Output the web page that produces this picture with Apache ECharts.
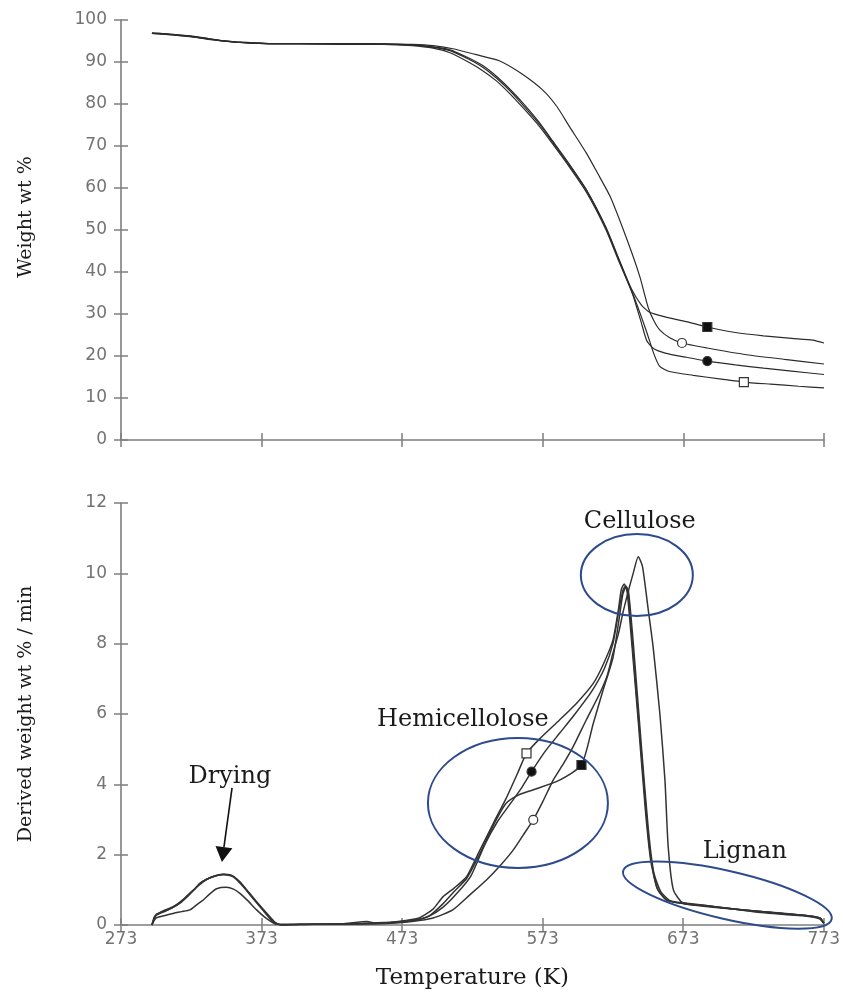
<!DOCTYPE html>
<html>
<head>
<meta charset="utf-8">
<script src="https://cdn.jsdelivr.net/npm/echarts@6/dist/echarts.min.js"></script>
<style>
  html, body { margin: 0; padding: 0; background: #ffffff; }
  #chart { width: 843px; height: 993px; }
</style>
</head>
<body>
<div id="chart"></div>
<script>
// ---- Thermogravimetric curves: weight (%) vs temperature (K), four samples ----
const tgaA = [[295,96.9],[305,96.7],[315,96.4],[325,96.1],[335,95.6],[345,95.1],[355,94.8],[365,94.6],[380,94.4],[400,94.4],[430,94.3],[460,94.3],[480,94.1],[495,93.6],[507,92.9],[520,91.0],[530,89.2],[540,86.6],[550,83.4],[560,79.8],[571,75.4],[580,71.2],[590,66.6],[604,59.6],[618,50.6],[627,43.2],[636,36.0],[643,32.2],[649,30.4],[660,29.3],[675,28.2],[690,26.9],[710,25.6],[730,24.8],[750,24.2],[765,23.8],[773,23.1]];
const tgaB = [[295,96.9],[305,96.7],[315,96.4],[325,96.0],[335,95.5],[345,95.1],[355,94.8],[365,94.6],[380,94.4],[400,94.4],[430,94.4],[460,94.3],[480,94.2],[495,93.9],[510,93.1],[525,91.8],[542,90.3],[558,87.2],[573,83.3],[583,79.4],[592,74.6],[604,68.3],[612,63.5],[621,57.9],[633,47.6],[642,38.9],[648,31.5],[652,28.4],[656,26.3],[663,24.4],[672,23.1],[690,21.9],[718,20.3],[745,19.2],[773,18.1]];
const tgaC = [[295,96.8],[305,96.6],[315,96.3],[325,96.0],[335,95.5],[345,95.0],[355,94.7],[365,94.5],[380,94.3],[400,94.3],[430,94.3],[460,94.2],[480,94.0],[495,93.5],[507,92.7],[520,90.7],[530,88.8],[540,86.2],[550,83.0],[560,79.3],[571,75.0],[580,70.9],[590,66.3],[604,59.5],[618,50.4],[627,43.0],[637,34.6],[643,28.0],[647,23.6],[652,21.7],[660,20.7],[675,19.7],[690,18.8],[710,17.9],[730,17.1],[750,16.4],[773,15.6]];
const tgaD = [[295,96.8],[305,96.6],[315,96.3],[325,95.9],[335,95.4],[345,95.0],[355,94.7],[365,94.5],[380,94.3],[400,94.3],[430,94.2],[460,94.2],[480,93.9],[495,93.3],[507,92.2],[520,90.0],[530,88.0],[540,85.5],[550,82.3],[560,78.7],[571,74.5],[580,70.5],[590,65.9],[604,59.0],[618,50.0],[627,42.6],[637,34.8],[647,25.6],[652,20.5],[656,17.6],[663,16.3],[680,15.4],[700,14.5],[716,13.8],[735,13.3],[755,12.8],[773,12.4]];

// ---- Derivative curves: weight loss rate (wt % / min) vs temperature (K) ----
const dtgA = [[295,0],[298,0.2],[305,0.28],[310,0.33],[316,0.38],[322,0.43],[327,0.58],[331.5,0.71],[336,0.88],[341,1.03],[348,1.07],[353,1.02],[357.6,0.9],[363,0.7],[369.5,0.43],[376,0.2],[383.7,0.02],[395,0.02],[420,0.03],[445,0.05],[465,0.08],[480,0.12],[492,0.25],[502,0.6],[510,0.95],[519,1.33],[528,2.0],[538,2.84],[547,3.46],[556,3.7],[566,3.84],[585,4.12],[600.6,4.55],[609,5.73],[616,6.68],[623,7.6],[627,8.6],[630,9.4],[632,9.6],[634,9.4],[637,7.9],[643,5.0],[649,2.2],[654,1.09],[661,0.71],[675,0.6],[700,0.48],[723,0.4],[745,0.32],[758,0.28],[770,0.2],[773,0.05]];
const dtgB = [[295,0],[298,0.28],[304,0.42],[310,0.52],[316,0.68],[320,0.82],[325,1.0],[329,1.18],[334,1.3],[339,1.38],[345,1.44],[352,1.4],[357,1.22],[362,1.0],[367,0.76],[372,0.52],[376,0.32],[381,0.1],[387,0],[410,0.02],[440,0.03],[465,0.05],[480,0.1],[495,0.2],[509,0.43],[521,0.85],[533,1.28],[543,1.7],[552,2.13],[559,2.55],[566.3,2.99],[573,3.5],[580.5,4.12],[588,4.6],[594.7,5.07],[604,5.83],[613.7,6.59],[619,7.1],[623,7.73],[627,8.3],[630,8.86],[634,9.5],[637.4,10.0],[641,10.47],[644,10.2],[648,9.0],[651.6,7.9],[656.4,6.0],[660,4.12],[662.3,2.23],[666,1.0],[673,0.62],[690,0.55],[710,0.45],[730,0.38],[750,0.31],[765,0.25],[771,0.18],[773,0.05]];
const dtgC = [[295,0],[298,0.3],[305,0.4],[312,0.55],[318,0.75],[324,0.98],[329,1.15],[334,1.3],[340,1.4],[346,1.43],[352,1.4],[357,1.25],[362,1.02],[367,0.78],[372,0.55],[377,0.32],[382,0.1],[387,0],[410,0.02],[440,0.03],[465,0.06],[480,0.12],[492,0.25],[502,0.5],[512,0.9],[522,1.4],[532,2.3],[541,2.95],[550,3.45],[558,3.9],[565.1,4.36],[575,4.95],[585,5.45],[596,6.0],[608,6.65],[617,7.3],[623,8.0],[627,8.9],[630,9.5],[632,9.65],[634,9.5],[637.5,8.0],[643,5.2],[648,2.8],[652,1.5],[657,0.95],[664,0.68],[676,0.6],[700,0.5],[723,0.4],[745,0.32],[760,0.27],[770,0.2],[773,0.05]];
const dtgD = [[295,0],[297,0.25],[302,0.35],[310,0.5],[315,0.62],[320,0.8],[325,1.0],[329,1.18],[334,1.3],[339,1.38],[346,1.44],[353,1.37],[358,1.2],[362,1.0],[367,0.75],[372,0.52],[377,0.3],[381,0.09],[387,0],[400,0.02],[430,0.03],[448,0.1],[455,0.05],[470,0.1],[485,0.2],[495,0.45],[502,0.8],[510,1.05],[519,1.38],[528,2.1],[538,2.9],[547,3.6],[555,4.3],[561.5,4.88],[571,5.3],[585,5.83],[597,6.3],[609,6.87],[616,7.4],[623,8.1],[627,9.0],[629,9.55],[631,9.7],[633,9.5],[636,8.2],[641,5.8],[646,3.3],[650,1.8],[655,1.0],[662,0.7],[676,0.62],[700,0.5],[723,0.38],[745,0.3],[758,0.26],[770,0.18],[773,0.05]];

// temperatures at which each sample's marker sits (A, B, C, D)
const tgaMarkerT = [690, 672, 690, 716];
const dtgMarkerT = [600.6, 566.3, 565.1, 561.5];

// axis ranges and ticks
const tempTicks = [273, 773, 100];
const weightTicks = [0, 100, 10];
const rateTicks = [0, 12, 2];

// marker look per sample: A filled square, B open circle, C filled circle, D open square
const markerLook = [
  { symbol: 'rect', fill: '#111111' },
  { symbol: 'circle', fill: '#ffffff' },
  { symbol: 'circle', fill: '#111111' },
  { symbol: 'rect', fill: '#ffffff' }
];

const GREY = '#7f7f7f';
const chart = echarts.init(document.getElementById('chart'), null, { renderer: 'canvas' });

function withMarker(points, markT, look) {
  return points.map(p => {
    if (p[0] === markT) {
      return {
        value: p,
        symbol: look.symbol,
        symbolSize: 9,
        itemStyle: { color: look.fill, borderColor: '#333333', borderWidth: 1.2 }
      };
    }
    return p;
  });
}

function lineSeries(points, markT, look, xi, yi, width, color) {
  return {
    type: 'line',
    xAxisIndex: xi,
    yAxisIndex: yi,
    data: withMarker(points, markT, look),
    symbol: 'none',
    showSymbol: true,
    smooth: 0.2,
    lineStyle: { color: color, width: width },
    itemStyle: { color: color },
    z: 3,
    silent: true
  };
}

function axisPair(kind, gridIndex, ticks, main) {
  const base = {
    type: 'value',
    gridIndex: gridIndex,
    min: ticks[0],
    max: ticks[1],
    interval: ticks[2],
    position: kind === 'x' ? 'bottom' : 'left',
    splitLine: { show: false },
    axisTick: { show: true, length: 7, lineStyle: { color: GREY, width: 1.5 } }
  };
  const outer = Object.assign({}, base, {
    axisLine: { show: true, onZero: false, lineStyle: { color: GREY, width: 1.6 } },
    axisTick: Object.assign({}, base.axisTick, { inside: false }),
    axisLabel: main.label ? {
      show: true,
      color: '#737373',
      fontFamily: 'DejaVu Sans',
      fontSize: 17,
      margin: kind === 'x' ? 6 : 14
    } : { show: false },
    name: main.name || '',
    nameLocation: 'middle',
    nameGap: main.nameGap || 0,
    nameTextStyle: {
      fontFamily: 'DejaVu Serif',
      fontSize: main.nameSize || 19,
      color: '#1a1a1a',
      padding: main.namePadding || 0
    }
  });
  const inner = Object.assign({}, base, {
    axisLine: { show: false, onZero: false },
    axisTick: Object.assign({}, base.axisTick, { inside: true }),
    axisLabel: { show: false }
  });
  return [outer, inner];
}

const xAxes = [
  ...axisPair('x', 0, tempTicks, { label: false }),
  ...axisPair('x', 1, tempTicks, { label: true, name: 'Temperature (K)', nameGap: 42, nameSize: 23 })
];
const yAxes = [
  ...axisPair('y', 0, weightTicks, { label: true, name: 'Weight wt %', nameGap: 85, nameSize: 19, namePadding: [0, 0, 0, 26] }),
  ...axisPair('y', 1, rateTicks, { label: true, name: 'Derived weight wt % / min', nameGap: 85, nameSize: 19 })
];

const tgaSets = [tgaA, tgaB, tgaC, tgaD];
const dtgSets = [dtgA, dtgB, dtgC, dtgD];

const series = [];
tgaSets.forEach((s, i) => series.push(lineSeries(s, tgaMarkerT[i], markerLook[i], 0, 0, 1.2, '#2b2b2b')));
dtgSets.forEach((s, i) => series.push(lineSeries(s, dtgMarkerT[i], markerLook[i], 2, 2, 1.5, '#333333')));

chart.setOption({
  animation: false,
  backgroundColor: '#ffffff',
  grid: [
    { left: 121, top: 20, width: 703, height: 420, containLabel: false },
    { left: 121, top: 503, width: 703, height: 422, containLabel: false }
  ],
  xAxis: xAxes,
  yAxis: yAxes,
  series: series
});

// ---- Annotations on the derivative panel, placed in data coordinates ----
const ELLIPSE_BLUE = '#2d4b8c';
const labelFont = '24px "DejaVu Serif"';
const toPx = (t, v) => chart.convertToPixel({ gridIndex: 1 }, [t, v]);

const notes = [
  { text: 'Drying', at: [350.5, 4.21] },
  { text: 'Hemicellolose', at: [516.2, 5.83] },
  { text: 'Cellulose', at: [642.1, 11.46] },
  { text: 'Lignan', at: [716.8, 2.08] }
];
const rings = [
  { at: [555.4, 3.47], rx: 90, ry: 65, tilt: 0 },
  { at: [640.0, 9.95], rx: 56, ry: 41, tilt: 0 },
  { at: [704.4, 0.85], rx: 107, ry: 24, tilt: -13 }
];
const arrowFrom = [352.0, 3.9];
const arrowTo = [344.8, 1.79];

const graphics = [];
notes.forEach(n => {
  const p = toPx(n.at[0], n.at[1]);
  graphics.push({
    type: 'text', x: p[0], y: p[1], z: 10,
    style: { text: n.text, font: labelFont, fill: '#1a1a1a', textAlign: 'center', textVerticalAlign: 'middle' }
  });
});
rings.forEach(r => {
  const p = toPx(r.at[0], r.at[1]);
  graphics.push({
    type: 'ellipse', x: p[0], y: p[1], rotation: r.tilt * Math.PI / 180, z: 10,
    shape: { cx: 0, cy: 0, rx: r.rx, ry: r.ry },
    style: { fill: null, stroke: ELLIPSE_BLUE, lineWidth: 2 }
  });
});
(function () {
  const a = toPx(arrowFrom[0], arrowFrom[1]);
  const b = toPx(arrowTo[0], arrowTo[1]);
  const dx = b[0] - a[0], dy = b[1] - a[1];
  const len = Math.sqrt(dx * dx + dy * dy);
  const ux = dx / len, uy = dy / len;
  const headLen = 15, headHalf = 8.5;
  const base = [b[0] - ux * headLen, b[1] - uy * headLen];
  graphics.push({
    type: 'line', z: 10,
    shape: { x1: a[0], y1: a[1], x2: base[0], y2: base[1] },
    style: { stroke: '#111111', lineWidth: 1.6 }
  });
  graphics.push({
    type: 'polygon', z: 10,
    shape: { points: [
      [b[0], b[1]],
      [base[0] + (-uy) * headHalf, base[1] + ux * headHalf],
      [base[0] - (-uy) * headHalf, base[1] - ux * headHalf]
    ] },
    style: { fill: '#111111' }
  });
})();

chart.setOption({ graphic: graphics });
</script>
</body>
</html>
